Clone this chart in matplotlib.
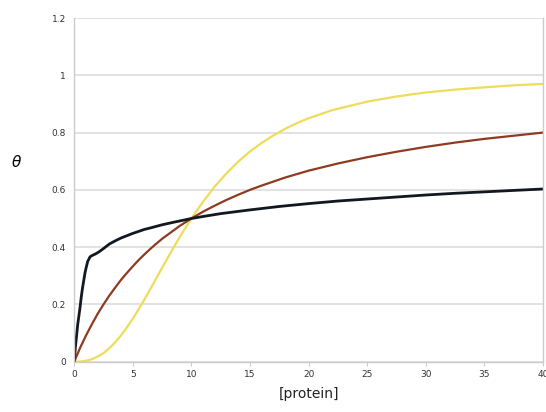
import matplotlib
matplotlib.use("Agg")
import matplotlib.pyplot as plt

# values
x_black = [0, 0.05, 0.1, 0.2, 0.3, 0.4, 0.5, 0.6, 0.7, 0.8, 0.92, 1.0, 1.15, 1.25, 1.35,
           1.45, 1.6, 1.8, 2.1, 2.5, 3, 3.5, 4, 4.5, 5, 5.5, 6, 6.5, 7.5, 8.5, 10, 11,
           12.5, 15, 17.5, 20, 22.5, 25, 27.5, 30, 32.5, 35, 37.5, 40]
y_black = [0, 0.025, 0.05, 0.09, 0.13, 0.16, 0.19, 0.225, 0.255, 0.28, 0.31, 0.325,
           0.35, 0.358, 0.366, 0.369, 0.372, 0.376, 0.383, 0.395, 0.411, 0.422, 0.432,
           0.44, 0.448, 0.455, 0.462, 0.467, 0.478, 0.487, 0.5, 0.507, 0.517, 0.53,
           0.542, 0.552, 0.561, 0.568, 0.575, 0.582, 0.588, 0.593, 0.598, 0.603]

x_brown = [0, 0.5, 1, 1.5, 2, 2.5, 3, 3.5, 4, 4.5, 5, 5.5, 6, 6.5, 7, 7.5, 8, 9, 10, 11,
           12, 13, 14, 15, 16, 17.5, 18, 20, 22.5, 25, 27.5, 30, 32.5, 35, 37.5, 40]
y_brown = [0, 0.048, 0.091, 0.13, 0.167, 0.2, 0.231, 0.259, 0.286, 0.31, 0.333, 0.355,
           0.375, 0.394, 0.412, 0.429, 0.444, 0.474, 0.5, 0.524, 0.545, 0.565, 0.583,
           0.6, 0.615, 0.636, 0.643, 0.667, 0.692, 0.714, 0.733, 0.75, 0.765, 0.778,
           0.789, 0.8]

x_yellow = [0, 0.5, 1, 1.5, 2, 2.5, 3, 3.5, 4, 4.5, 5, 5.5, 6, 6.5, 7, 7.5, 8, 8.5, 9,
            9.5, 10, 11, 12, 13, 14, 15, 16, 17, 18, 19, 20, 22, 25, 27.5, 30, 32.5, 35,
            37.5, 40]
y_yellow = [0, 0.0006, 0.003, 0.0086, 0.018, 0.03, 0.047, 0.068, 0.092, 0.12, 0.15,
            0.183, 0.218, 0.254, 0.291, 0.328, 0.364, 0.4, 0.435, 0.468, 0.5, 0.559,
            0.612, 0.658, 0.699, 0.734, 0.764, 0.79, 0.813, 0.833, 0.85, 0.878, 0.908,
            0.926, 0.94, 0.95, 0.958, 0.965, 0.97]

x_ticks = [0, 5, 10, 15, 20, 25, 30, 35, 40]
y_ticks = [0, 0.2, 0.4, 0.6, 0.8, 1, 1.2]
y_tick_labels = ['0', '0.2', '0.4', '0.6', '0.8', '1', '1.2']

fig = plt.figure(figsize=(5.46, 4.12), dpi=100)
ax = fig.add_axes([74.2 / 546, 1 - 361.7 / 412, (543 - 74.2) / 546, (361.7 - 18) / 412])

ax.plot(x_yellow, y_yellow, color='#eedc5a', lw=1.6, solid_capstyle='round',
        solid_joinstyle='round')
ax.plot(x_brown, y_brown, color='#8e3b22', lw=1.6, solid_capstyle='round',
        solid_joinstyle='round')
ax.plot(x_black, y_black, color='#111820', lw=2.0, solid_capstyle='round',
        solid_joinstyle='round')

ax.set_xlim(0, 40)
ax.set_ylim(0, 1.2)
ax.set_xticks(x_ticks)
ax.set_yticks(y_ticks)
ax.set_yticklabels(y_tick_labels)
ax.tick_params(axis='both', labelsize=6.5, colors='#333333', length=3, width=0.8)
ax.tick_params(axis='x', color='#cccccc', pad=3)
ax.tick_params(axis='y', length=0, pad=6)
ax.grid(axis='y', color='#dddddd', lw=1.2)
ax.set_axisbelow(True)
for side in ['left', 'bottom', 'right']:
    ax.spines[side].set_color('#cccccc')
    ax.spines[side].set_linewidth(1.0)
ax.spines['top'].set_visible(False)

ax.set_xlabel('[protein]', fontsize=10, color='#222222', labelpad=6)
fig.text(17 / 546, 1 - 162 / 412, r'$\theta$', fontsize=11, ha='center', va='center')

fig.savefig('out.png', dpi=100)
